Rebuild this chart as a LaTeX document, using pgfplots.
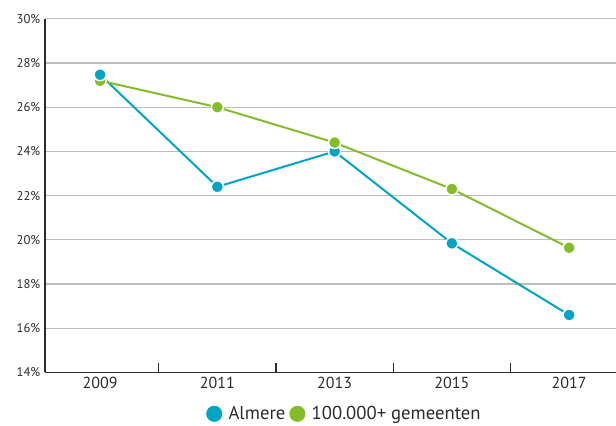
\documentclass[border=0pt]{standalone}
\usepackage{fontspec}
\setmainfont{PT Sans}
\usepackage{pgfplots}
\pgfplotsset{compat=1.18}
\definecolor{almere}{HTML}{00A5C5}
\definecolor{groen}{HTML}{84BC2A}
\definecolor{gridg}{HTML}{BDBDBD}
\definecolor{txt}{HTML}{2B2B2B}
\begin{document}
\begin{tikzpicture}
\useasboundingbox (0,0) rectangle (462pt,-318.75pt);
\begin{axis}[
  anchor=south west, at={(33.75pt,-279.3pt)},
  scale only axis, width=428.25pt, height=265.2pt,
  xmin=-0.47, xmax=4.4, ymin=14, ymax=30,
  axis x line*=bottom, axis y line*=left,
  axis line style={-, txt, line width=1pt},
  ytick={14,16,...,30},
  yticklabel={\pgfmathprintnumber{\tick}\%},
  /pgf/number format/assume math mode=true,
  yticklabel style={font=\fontsize{9.5}{11}\selectfont, text=txt},
  ytick style={draw=none},
  ymajorgrids, grid style={gridg, line width=0.9pt},
  xtick={0.5,1.5,2.5,3.5}, xticklabels={},
  xtick style={txt, line width=0.9pt},
  major tick length=7pt, tick align=inside,
  extra x ticks={0,1,2,3,4},
  extra x tick labels={2009,2011,2013,2015,2017},
  extra x tick style={major tick length=0pt, xmajorgrids=false, tick label style={font=\fontsize{12}{14}\selectfont, text=txt}},
  clip=false,
  legend columns=2,
  legend style={draw=none, fill=none, at={(0.525,-0.117)}, anchor=center, font=\fontsize{14}{16}\selectfont, text=txt, /tikz/every even column/.append style={column sep=1pt}},
  legend cell align=left,
  legend image code/.code={\fill[#1] (0.2cm,0cm) circle (5.8pt); \path (0cm,0cm) (0.5cm,0cm);},
]
\addplot[forget plot, almere, line width=1.5pt, mark=*, mark size=4.5pt, mark options={fill=almere, draw=white, line width=1.1pt}]
  coordinates {(0,27.47) (1,22.4) (2,24.0) (3,19.84) (4,16.6)};
\addplot[forget plot, groen, line width=1.5pt, mark=*, mark size=4.5pt, mark options={fill=groen, draw=white, line width=1.1pt}]
  coordinates {(0,27.2) (1,26.0) (2,24.4) (3,22.3) (4,19.64)};
\addplot[forget plot, almere, only marks, mark=*, mark size=4.5pt, mark options={fill=almere, draw=white, line width=1.1pt}] coordinates {(0,27.47)};
\addlegendimage{almere}
\addlegendentry{Almere}
\addlegendimage{groen}
\addlegendentry{100.000+ gemeenten}
\end{axis}
\end{tikzpicture}
\end{document}
